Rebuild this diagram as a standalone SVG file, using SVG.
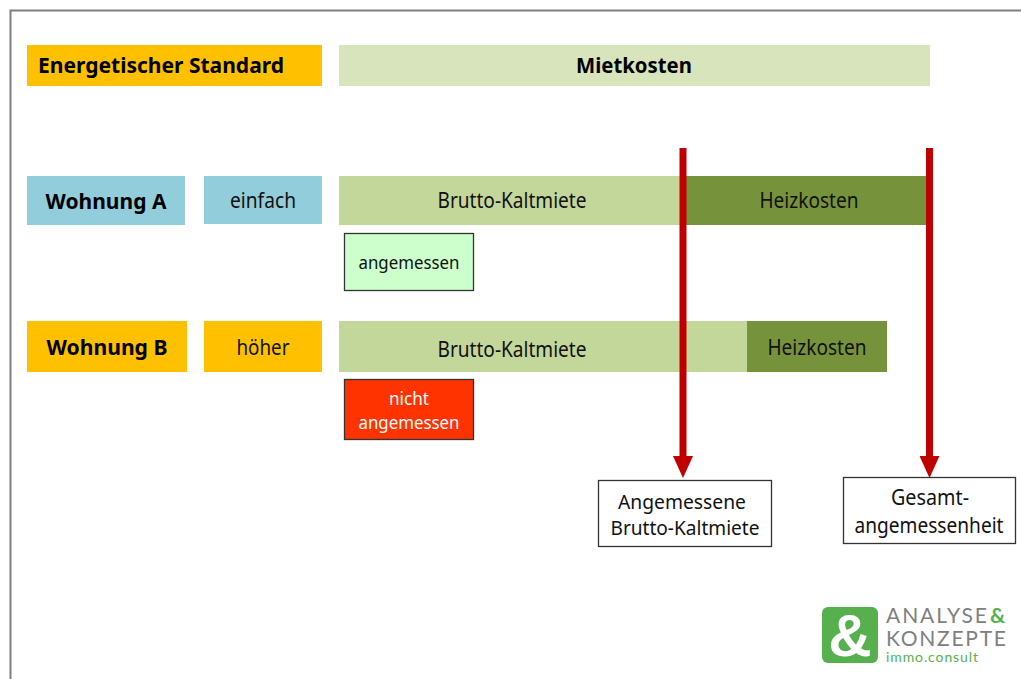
<svg xmlns="http://www.w3.org/2000/svg" width="1021" height="679" viewBox="0 0 1021 679">
<style>
text{font-family:"Noto Sans","DejaVu Sans",sans-serif;text-anchor:middle;fill:#111}
.b{font-weight:700;fill:#000}
.l{font-size:22px}
.m{font-size:21.500px}
.n{font-size:20px}
.s{font-size:18px}
.box{fill:#fff;stroke:#333;stroke-width:1.3}
.logo{font-family:"Lato","Open Sans",sans-serif;text-anchor:start}
</style>
<defs>
<marker id="ah" markerUnits="userSpaceOnUse" markerWidth="22" markerHeight="20" refX="0" refY="10" orient="auto"><path d="M0 0L22 10L0 20Z" fill="#c00000"/></marker>
</defs>
<rect width="1021" height="679" fill="#fff"/>
<path d="M1021 10.500H10.500V679" fill="none" stroke="#7f7f7f" stroke-width="2"/>
<g id="header-standard"><rect x="27" y="45" width="295" height="41" fill="#ffc000"/><text class="b l" x="161" y="73" textLength="246" lengthAdjust="spacingAndGlyphs">Energetischer Standard</text></g>
<g id="header-miete"><rect x="339" y="45" width="591" height="41" fill="#d8e4bc"/><text class="b l" x="634" y="73" textLength="116" lengthAdjust="spacingAndGlyphs">Mietkosten</text></g>
<g id="wohnung-a"><rect x="27" y="176" width="158" height="49" fill="#92cddc"/><text class="b l" x="106" y="209" textLength="121" lengthAdjust="spacingAndGlyphs">Wohnung A</text></g>
<g id="einfach"><rect x="204" y="176" width="118" height="48" fill="#92cddc"/><text class="m" x="263" y="208" textLength="66" lengthAdjust="spacingAndGlyphs">einfach</text></g>
<g id="kalt-a"><rect x="339" y="176" width="346" height="49" fill="#c4d79b"/><text class="m" x="512" y="208" textLength="149" lengthAdjust="spacingAndGlyphs">Brutto-Kaltmiete</text></g>
<g id="heiz-a"><rect x="685" y="176" width="244" height="49" fill="#76933c"/><text class="m" x="809" y="208" textLength="99" lengthAdjust="spacingAndGlyphs">Heizkosten</text></g>
<g id="angemessen"><rect class="box" x="344.500" y="233.500" width="129" height="57" style="fill:#ccffcc"/><text class="s" x="409" y="269" textLength="101" lengthAdjust="spacingAndGlyphs">angemessen</text></g>
<g id="wohnung-b"><rect x="27" y="321" width="160" height="51" fill="#ffc000"/><text class="b l" x="107" y="355" textLength="121" lengthAdjust="spacingAndGlyphs">Wohnung B</text></g>
<g id="hoeher"><rect x="204" y="321" width="118" height="51" fill="#ffc000"/><text class="m" x="263" y="355" textLength="53" lengthAdjust="spacingAndGlyphs">höher</text></g>
<g id="kalt-b"><rect x="339" y="321" width="408" height="51" fill="#c4d79b"/><text class="m" x="512" y="357" textLength="149" lengthAdjust="spacingAndGlyphs">Brutto-Kaltmiete</text></g>
<g id="heiz-b"><rect x="747" y="321" width="140" height="51" fill="#76933c"/><text class="m" x="817" y="355" textLength="99" lengthAdjust="spacingAndGlyphs">Heizkosten</text></g>
<g id="nicht-angemessen"><rect class="box" x="344.500" y="379.500" width="129" height="60" style="fill:#ff3300"/><text class="s" x="409" y="405" style="fill:#fff" textLength="40" lengthAdjust="spacingAndGlyphs">nicht</text><text class="s" x="409" y="429" style="fill:#fff" textLength="101" lengthAdjust="spacingAndGlyphs">angemessen</text></g>
<g id="connectors" fill="none" stroke="#c00000" stroke-width="7">
<path d="M683 148V456" marker-end="url(#ah)"/>
<path d="M929.500 148V456" marker-end="url(#ah)"/>
</g>
<g id="angemessene-kaltmiete"><rect class="box" x="598.500" y="480.500" width="173" height="66"/><text class="n" x="682" y="508.500" textLength="128" lengthAdjust="spacingAndGlyphs">Angemessene</text><text class="n" x="685" y="535" textLength="149" lengthAdjust="spacingAndGlyphs">Brutto-Kaltmiete</text></g>
<g id="gesamt"><rect class="box" x="843.500" y="477.500" width="172" height="66"/><text class="m" x="930" y="505" textLength="78" lengthAdjust="spacingAndGlyphs">Gesamt-</text><text class="m" x="929" y="533" textLength="149" lengthAdjust="spacingAndGlyphs">angemessenheit</text></g>
<g id="logo">
<rect x="822" y="607" width="56" height="56" rx="6" fill="#56b04e"/>
<text x="850" y="656" style="font-family:'Liberation Sans',sans-serif;font-size:60px;font-weight:700;fill:#fff">&amp;</text>
<text class="logo" x="886" y="623" font-size="21" style="fill:#808080" textLength="101">ANALYSE</text>
<text class="logo" x="990" y="623" font-size="21" font-weight="700" style="fill:#56b04e">&amp;</text>
<text class="logo" x="886" y="646" font-size="21" style="fill:#808080" textLength="120">KONZEPTE</text>
<text class="logo" x="886" y="662" font-size="14" style="fill:#56b04e" textLength="92">immo.consult</text>
</g>
</svg>
